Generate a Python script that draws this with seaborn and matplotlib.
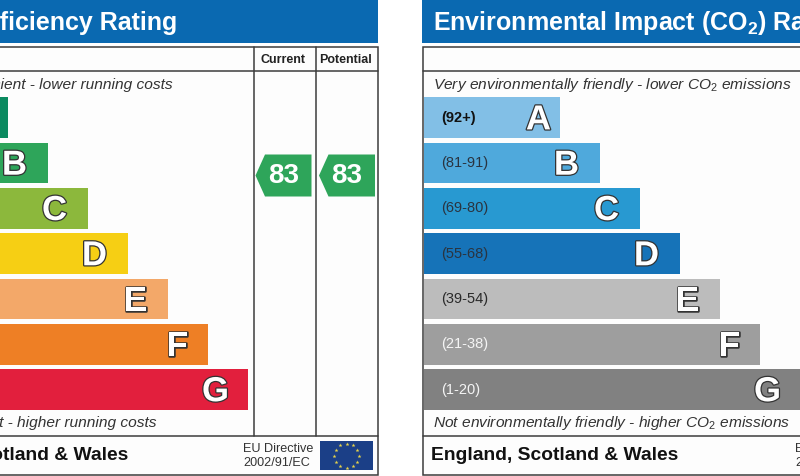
import numpy as np
import pandas as pd
import matplotlib.pyplot as plt
import matplotlib.patheffects as pe
from matplotlib.patches import Polygon, Rectangle
import seaborn as sns

ratings = ['A', 'B', 'C', 'D', 'E', 'F', 'G']
bar_lengths = [136, 176, 216, 256, 296, 336, 376]
letter_insets = [21, 33, 33, 33, 32, 30, 32]
energy_colors = ['#0b8a60', '#2ea55a', '#8cb83c', '#f6cf14', '#f3a869', '#ee7f25', '#e21f3d']
co2_colors = ['#82bfe6', '#4fa9dc', '#2899d1', '#1673b8', '#bcbcbc', '#9e9e9e', '#818181']
co2_ranges = ['(92+)', '(81-91)', '(69-80)', '(55-68)', '(39-54)', '(21-38)', '(1-20)']
range_colors = ['#111111', '#2a3440', '#2a3440', '#2a3440', '#2a2a2a', '#f4f4f4', '#f4f4f4']
current_score = 83
potential_score = 83

BLUE = '#0a69b1'
LINE = '#3c3c3c'
W, H = 800, 476

sns.set_theme(style='white')
plt.rcParams['font.family'] = ['Liberation Sans', 'DejaVu Sans']
plt.rcParams['mathtext.fontset'] = 'custom'
plt.rcParams['mathtext.rm'] = 'Liberation Sans'
plt.rcParams['mathtext.it'] = 'Liberation Sans:italic'
plt.rcParams['mathtext.bf'] = 'Liberation Sans:bold'

fig = plt.figure(figsize=(W / 100, H / 100), dpi=100, facecolor='white')

# background axes in pixel coordinates, holds frames and text
bg = fig.add_axes([0, 0, 1, 1])
bg.set_xlim(0, W)
bg.set_ylim(H, 0)
bg.set_axis_off()


def px_axes(left, top, width, height):
    ax = fig.add_axes([left / W, 1 - (top + height) / H, width / W, height / H])
    ax.patch.set_alpha(0)
    return ax


def draw_panel(x0, x1, frame_right):
    bg.add_patch(Rectangle((x0, 0), x1 - x0, 43, color=BLUE, lw=0))
    bg.add_patch(Rectangle((x0 + 1, 46.5), frame_right - x0 - 1, 428, fc='#fdfdfd', ec=LINE, lw=1.1))
    bg.plot([x0 + 1, frame_right], [71, 71], color=LINE, lw=1.1)
    bg.plot([x0 + 1, frame_right], [435.5, 435.5], color=LINE, lw=1.1)


def draw_bars(left, colors):
    ax = px_axes(left, 95.1, 380, 317.1)
    df = pd.DataFrame({'rating': ratings, 'length': bar_lengths})
    sns.barplot(data=df, x='length', y='rating', hue='rating', palette=colors,
                width=0.895, saturation=1, legend=False, orient='h', linewidth=0, ax=ax)
    ax.set_xlim(0, 380)
    ax.set_ylim(6.5, -0.5)
    ax.set_axis_off()
    for i, (r, n, inset) in enumerate(zip(ratings, bar_lengths, letter_insets)):
        ax.text(n - inset, i - 0.03, r, fontsize=25, fontweight='bold', color='white',
                ha='center', va='center_baseline', clip_on=False,
                path_effects=[pe.withStroke(linewidth=1.8, foreground='#333333')])
    return ax


def draw_score(x, score):
    pts = [(x, 175.5), (x + 9.5, 154.5), (x + 56, 154.5), (x + 56, 196.5), (x + 9.5, 196.5)]
    bg.add_patch(Polygon(pts, closed=True, color=energy_colors[1], lw=0))
    bg.text(x + 28, 176, str(score), color='white', fontsize=20, fontweight='bold',
            ha='center', va='center')


# left panel
draw_panel(-10, 378, 378)
bg.plot([253.5, 253.5], [46.5, 435.5], color=LINE, lw=1.1)
bg.plot([315.5, 315.5], [46.5, 435.5], color=LINE, lw=1.1)
bg.text(177, 23, 'Energy Efficiency Rating', color='white', fontsize=18, fontweight='bold',
        ha='right', va='center')
bg.text(283, 60, 'Current', fontsize=9, fontweight='bold', color='#222222', ha='center', va='center')
bg.text(346, 60, 'Potential', fontsize=9, fontweight='bold', color='#222222', ha='center', va='center')
bg.text(172.5, 85.5, 'Very energy efficient - lower running costs', fontsize=11.15, style='italic',
        color='#333333', ha='right', va='center')
bg.text(157, 423.5, 'Not energy efficient - higher running costs', fontsize=11.15, style='italic',
        color='#333333', ha='right', va='center')
bg.text(128.5, 456, 'England, Scotland & Wales', fontsize=13.9, fontweight='bold', color='#111111',
        ha='right', va='center')
bg.text(243, 449, 'EU Directive', fontsize=9.1, color='#333333', va='center')
bg.text(243, 463, '2002/91/EC', fontsize=9.1, color='#333333', va='center')
draw_bars(-128.5, energy_colors)
draw_score(255.5, current_score)
draw_score(319, potential_score)

# EU flag
bg.add_patch(Rectangle((320, 441), 53, 29, color='#1b3f87', lw=0))
angles = np.deg2rad(np.arange(0, 360, 30))
bg.scatter(346.5 + 12.5 * np.cos(angles), 455.5 + 12 * np.sin(angles), marker='*', s=9,
           color='#e8d44a', lw=0, zorder=3)

# right panel
draw_panel(422, 810, 810)
bg.text(433, 23, r'Environmental Impact (CO$\mathbf{_2}$) Rating', color='white', fontsize=18,
        fontweight='bold', ha='left', va='center')
bg.text(433, 85.5, r'Very environmentally friendly - lower CO$_2$ emissions', fontsize=11.15,
        style='italic', color='#333333', va='center')
bg.text(433, 423.5, r'Not environmentally friendly - higher CO$_2$ emissions', fontsize=11.15,
        style='italic', color='#333333', va='center')
bg.text(431, 456, 'England, Scotland & Wales', fontsize=13.9, fontweight='bold', color='#111111',
        va='center')
bg.text(795, 449, 'EU Directive', fontsize=9.1, color='#333333', va='center')
bg.text(795, 463, '2002/91/EC', fontsize=9.1, color='#333333', va='center')
ax_co2 = draw_bars(423.5, co2_colors)
for i, (label, c) in enumerate(zip(co2_ranges, range_colors)):
    ax_co2.text(18, i, label, fontsize=10.5, color=c, va='center',
                fontweight='bold' if i == 0 else 'normal')

fig.savefig('out.png', dpi=100, facecolor='white')
